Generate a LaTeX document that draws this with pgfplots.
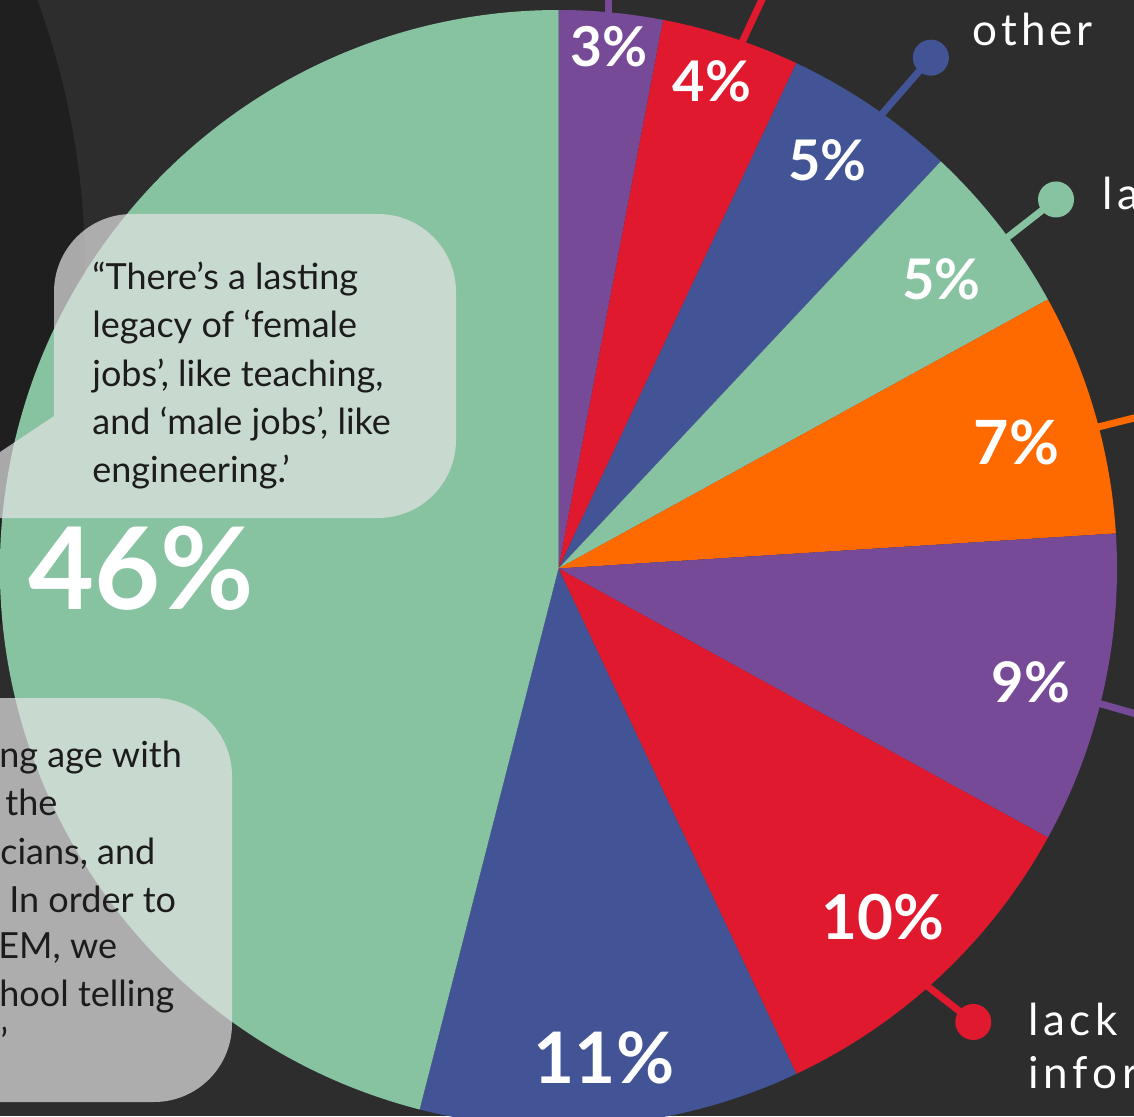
\documentclass[border=0pt]{standalone}
\usepackage{pgfplots}
\pgfplotsset{compat=1.18}
\usepackage{pgfplotstable}
\usepackage{fontspec}
\setmainfont{Lato}
\definecolor{bg}{HTML}{2D2D2D}
\definecolor{darkc}{HTML}{1F1F1F}
\definecolor{pgreen}{HTML}{87C2A1}
\definecolor{ppurple}{HTML}{774A98}
\definecolor{pred}{HTML}{E0192E}
\definecolor{pblue}{HTML}{425496}
\definecolor{porange}{HTML}{FF6A00}
\definecolor{bubble}{HTML}{E4E4E4}
\definecolor{qtext}{HTML}{1C1C1C}

% share (%), label radius (px), label angle offset (deg), label size (pt),
% connector: leaves pie at angle (deg from top, clockwise), direction, length (px), dot
\pgfplotstableread{
v labr laboff fs conat condir conlen dot
3 524 0.1 27.5 5.2 0 30 0
4 511 -0.5 28 19.2 25 60 0
5 489 -0.8 28 35.4 41 78 1
5 480 0.7 28 53.6 52 65 1
7 475 0.8 30.5 75.3 76 60 0
9 486 1.0 28 104 106 60 0
10 476 0.2 31 138.6 128 61 1
11 492 0.1 35.5 0 0 0 0
46 417 -7.2 57 0 0 0 0
}\piedata

\colorlet{slice0}{ppurple}
\colorlet{slice1}{pred}
\colorlet{slice2}{pblue}
\colorlet{slice3}{pgreen}
\colorlet{slice4}{porange}
\colorlet{slice5}{ppurple}
\colorlet{slice6}{pred}
\colorlet{slice7}{pblue}
\colorlet{slice8}{pgreen}

\def\pcx{558.5}
\def\pcy{547.5}
\def\pr{558.5}

\begin{document}
\begin{tikzpicture}
\useasboundingbox (0,0) rectangle (567pt,558pt);
\gdef\cumsum{0}%
\pgfplotsforeachungrouped \ii in {0,...,8}{%
  \pgfplotstablegetelem{\ii}{v}\of\piedata \let\curv\pgfplotsretval
  \expandafter\xdef\csname pv\ii\endcsname{\curv}%
  \pgfmathsetmacro\tsa{90-3.6*\cumsum}%
  \pgfmathsetmacro\tcum{\cumsum+\curv}%
  \pgfmathsetmacro\tea{90-3.6*\tcum}%
  \expandafter\xdef\csname sa\ii\endcsname{\tsa}%
  \expandafter\xdef\csname ea\ii\endcsname{\tea}%
  \pgfplotstablegetelem{\ii}{laboff}\of\piedata \let\tlo\pgfplotsretval
  \pgfplotstablegetelem{\ii}{labr}\of\piedata \let\tlr\pgfplotsretval
  \pgfmathsetmacro\tma{90-(3.6*(\cumsum+\curv/2)+\tlo)}%
  \pgfmathsetmacro\tlx{\pcx+\tlr*cos(\tma)}%
  \pgfmathsetmacro\tly{\pcy+\tlr*sin(\tma)}%
  \expandafter\xdef\csname lx\ii\endcsname{\tlx}%
  \expandafter\xdef\csname ly\ii\endcsname{\tly}%
  \pgfplotstablegetelem{\ii}{fs}\of\piedata
  \expandafter\xdef\csname fs\ii\endcsname{\pgfplotsretval}%
  \pgfplotstablegetelem{\ii}{conat}\of\piedata \let\tca\pgfplotsretval
  \pgfplotstablegetelem{\ii}{condir}\of\piedata \let\tcd\pgfplotsretval
  \pgfplotstablegetelem{\ii}{conlen}\of\piedata \let\tcl\pgfplotsretval
  \pgfplotstablegetelem{\ii}{dot}\of\piedata \let\tdot\pgfplotsretval
  \pgfmathsetmacro\tax{\pcx+(\pr-4)*cos(90-\tca)}%
  \pgfmathsetmacro\tay{\pcy+(\pr-4)*sin(90-\tca)}%
  \pgfmathsetmacro\tbx{\tax+\tcl*cos(90-\tcd)}%
  \pgfmathsetmacro\tby{\tay+\tcl*sin(90-\tcd)}%
  \pgfmathsetmacro\tdr{9*\tdot}%
  \expandafter\xdef\csname cax\ii\endcsname{\tax}%
  \expandafter\xdef\csname cay\ii\endcsname{\tay}%
  \expandafter\xdef\csname cbx\ii\endcsname{\tbx}%
  \expandafter\xdef\csname cby\ii\endcsname{\tby}%
  \expandafter\xdef\csname cdr\ii\endcsname{\tdr}%
  \global\let\cumsum\tcum
}%
\begin{scope}
\clip (0,0) rectangle (567pt,558pt);
\fill[bg] (0,0) rectangle (567pt,558pt);
\fill[darkc] (-350pt,423pt) circle[radius=392.5pt];
\begin{axis}[at={(0,0)}, anchor=south west, x=0.5pt, y=0.5pt,
  xmin=0, xmax=1134, ymin=0, ymax=1116, hide axis, scale only axis, clip=true]
\pgfplotsinvokeforeach{0,...,8}{%
  \fill[slice#1] (axis cs:\pcx,\pcy) -- ++(\csname sa#1\endcsname:279.25pt)
    arc[start angle=\csname sa#1\endcsname, end angle=\csname ea#1\endcsname, radius=279.25pt] -- cycle;
}
\pgfplotsinvokeforeach{0,...,6}{%
  \draw[slice#1, line width=3.5pt] (axis cs:\csname cax#1\endcsname,\csname cay#1\endcsname)
    -- (axis cs:\csname cbx#1\endcsname,\csname cby#1\endcsname);
  \fill[slice#1] (axis cs:\csname cbx#1\endcsname,\csname cby#1\endcsname) circle[radius=\csname cdr#1\endcsname pt];
}
\pgfplotsinvokeforeach{0,...,8}{%
  \node[text=white, inner sep=0pt, font=\bfseries\fontsize{\csname fs#1\endcsname}{\csname fs#1\endcsname}\selectfont]
    at (axis cs:\csname lx#1\endcsname,\csname ly#1\endcsname) {\csname pv#1\endcsname\%};
}
\end{axis}
\begin{scope}[x=0.5pt, y=0.5pt]
  % speech bubble 1
  \fill[bubble, fill opacity=0.7] (-99,598) -- (54,700) -- (54,824)
    arc[start angle=180, end angle=90, radius=78] -- (378,902)
    arc[start angle=90, end angle=0, radius=78] -- (456,676)
    arc[start angle=0, end angle=-90, radius=78] -- cycle;
  % speech bubble 2
  \fill[bubble, fill opacity=0.7] (-120,14) -- (154,14)
    arc[start angle=-90, end angle=0, radius=78] -- (232,340)
    arc[start angle=0, end angle=90, radius=78] -- (-120,418) -- cycle;
  \begin{scope}[every node/.style={inner sep=0pt, text=qtext, font=\fontsize{18}{18}\selectfont}]
    \node[anchor=base west] at (92,827) {“There’s a lasting};
    \node[anchor=base west] at (92,778.5) {legacy of ‘female};
    \node[anchor=base west] at (92,730) {jobs’, like teaching,};
    \node[anchor=base west] at (92,682) {and ‘male jobs’, like};
    \node[anchor=base west] at (92,634) {engineering.’};
    \node[anchor=base west] at (-1,349) {ng age with};
    \node[anchor=base west] at (5,301) {the};
    \node[anchor=base west] at (0,252) {cians, and};
    \node[anchor=base west] at (9,204) {In order to};
    \node[anchor=base west] at (-2,158) {EM, we};
    \node[anchor=base west] at (-1,110) {hool telling};
    \node[anchor=base west] at (0,62) {’};
  \end{scope}
  \begin{scope}[every node/.style={inner sep=0pt, text=white, font=\fontsize{22}{22}\selectfont}]
    \node[anchor=base west] at (972,1070) {o\kern2pt t\kern2pt h\kern2pt e\kern2pt r};
    \node[anchor=base west] at (1102,906) {l\kern2.3pt a};
    \node[anchor=base west] at (1028,81) {l\kern2.3pt a\kern2.3pt c\kern2.3pt k};
    \node[anchor=base west] at (1028,28) {i\kern2.3pt n\kern2.3pt f\kern2.3pt o\kern2.3pt r};
  \end{scope}
\end{scope}
\end{scope}
\end{tikzpicture}
\end{document}
